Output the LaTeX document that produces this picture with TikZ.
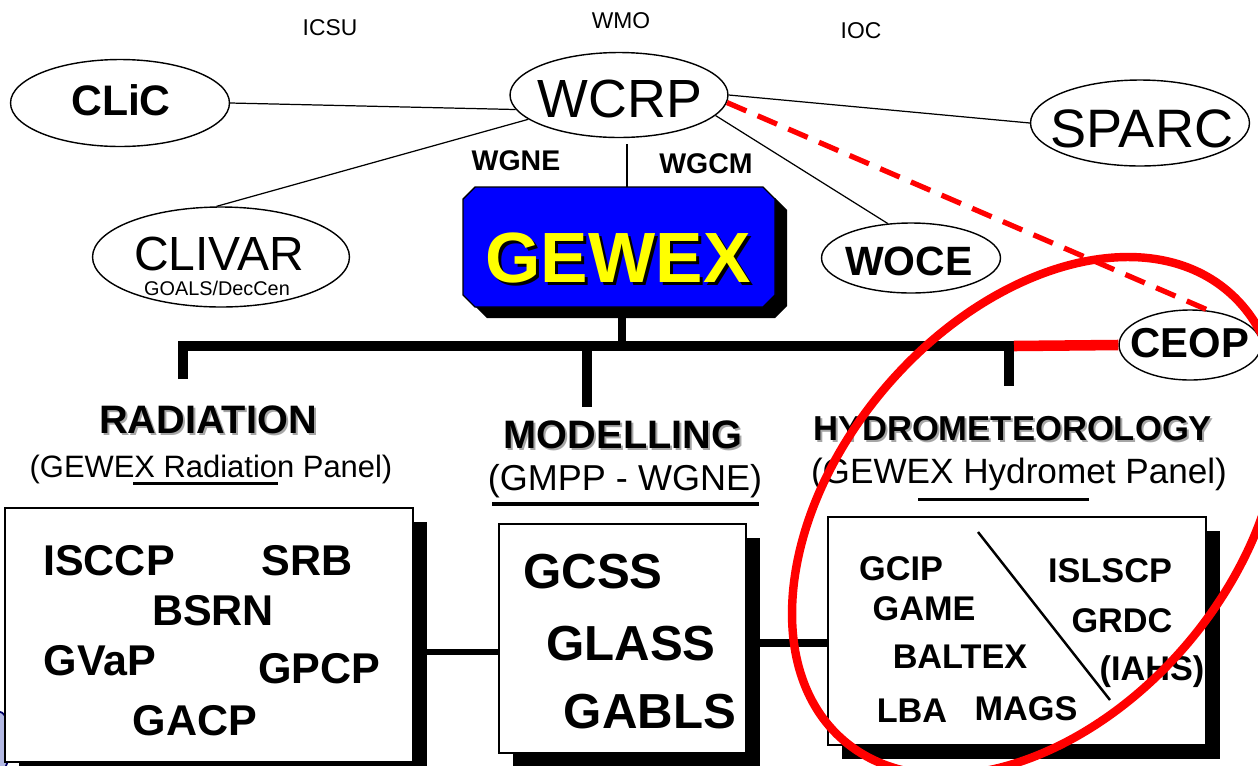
\documentclass[tikz,border=0pt]{standalone}
\usepackage{fontspec}
\setmainfont{Liberation Sans}
\usetikzlibrary{shapes.geometric,shapes.misc,shadows}
\newcommand\setfs[1]{\fontsize{#1}{#1}\selectfont}
\definecolor{gblue}{RGB}{0,0,255}
\definecolor{gyellow}{RGB}{255,255,0}
\definecolor{gred}{RGB}{255,0,0}
\begin{document}
\begin{tikzpicture}[x=0.02cm, y=-0.02cm,
  oval/.style={draw, ellipse, line width=0.8pt, inner sep=0pt, fill=white},
  txt/.style={inner sep=0pt, anchor=base},
  thinline/.style={line width=0.7pt},
  wbox/.style={draw, fill=white, line width=0.8pt, inner sep=0pt,
    drop shadow={fill=black, opacity=1, shadow xshift=0.28cm, shadow yshift=-0.28cm}},
  busline/.style={line width=6pt, line join=miter},
  hd/.style={txt, font=\bfseries\setfs{22.6}},
  hdsh/.style={txt, font=\bfseries\setfs{22.6}, text=black!35},
]
\useasboundingbox (0,0) rectangle (1258,765);
\clip (0,0) rectangle (1258,765);

% fragment of a logo at the lower left
\filldraw[fill=cyan!30!blue!30, draw=blue!40!black, line width=1pt] (0,742) ellipse [x radius=10, y radius=30];

% top labels
\node[txt, font=\setfs{13}] (icsu) at (330,35) {ICSU};
\node[txt, font=\setfs{13}] (wmo) at (621,28) {WMO};
\node[txt, font=\setfs{13}] (ioc) at (861,38) {IOC};

% ellipses
\node[oval, minimum width=4.38cm, minimum height=1.74cm] (clic) at (120,103) {};
\node[txt, font=\bfseries\setfs{24.3}] (clict) at (121,115) {CLiC};
\node[oval, minimum width=4.36cm, minimum height=1.70cm] (wcrp) at (619,95) {};
\node[txt, font=\setfs{30.6}] (wcrpt) at (620,117) {WCRP};
\node[oval, minimum width=4.38cm, minimum height=1.72cm] (sparc) at (1140,123) {};
\node[txt, font=\setfs{30.8}] (sparct) at (1142,147) {SPARC};
\node[oval, minimum width=5.14cm, minimum height=2.0cm] (clivar) at (221,257) {};
\node[txt, font=\setfs{27.3}] (clivart) at (219,270) {CLIVAR};
\node[txt, font=\setfs{11.3}] (goals) at (217,295) {GOALS/DecCen};
\node[oval, minimum width=3.58cm, minimum height=1.40cm] (woce) at (911,258) {};
\node[txt, font=\bfseries\setfs{23.3}] (wocet) at (909,275) {WOCE};
\node[oval, minimum width=2.84cm, minimum height=1.40cm] (ceop) at (1190,345) {};
\node[txt, font=\bfseries\setfs{23.8}] (ceopt) at (1190,357) {CEOP};

% thin connectors
\draw[thinline] (clic.east) -- (wcrp.188);
\draw[thinline] (clivar.95) -- (wcrp.195);
\draw[thinline] (wcrp.east) -- (sparc.west);
\draw[thinline] (wcrp.-12) -- (woce.124);
\draw[gred, line width=3pt, dash pattern=on 12pt off 7pt] (wcrp.-4) -- (ceop.61);

% WGNE / WGCM
\node[txt, font=\bfseries\setfs{16.2}] (wgne) at (516,170) {WGNE};
\node[txt, font=\bfseries\setfs{16.2}] (wgcm) at (706,173) {WGCM};

% GEWEX box (chamfered, with drop shadow)
\fill[black] (487,198) -- (775,198) -- (787,210) -- (787,306) -- (775,318) -- (487,318) -- (475,306) -- (475,210) -- cycle;
\filldraw[fill=gblue, draw=black, line width=0.8pt] (475,187) -- (763,187) -- (775,199) -- (775,295) -- (763,307) -- (475,307) -- (463,295) -- (463,199) -- cycle;
\node[rectangle, inner sep=0pt, minimum width=6.24cm, minimum height=2.4cm] (gewex) at (619,247) {};
\node[txt, font=\bfseries\setfs{40.5}, text=black] (gewexsh) at (621,285) {GEWEX};
\node[txt, font=\bfseries\setfs{40.5}, text=gyellow] (gewext) at (618,282) {GEWEX};
\coordinate (wtop) at (627,144);
\draw[thinline] (wtop) -- (wtop |- gewex.north);

% bus
\coordinate (gdrop) at (622,318);
\coordinate (bLtop) at (183,346);
\coordinate (bL) at (183,379);
\coordinate (bMtop) at (587,346);
\coordinate (bM) at (587,407);
\coordinate (bRtop) at (1009,346);
\coordinate (bR) at (1009,386);
\coordinate (redS) at (1014,346);
\draw[line width=4pt] (gdrop) -- (gdrop |- bLtop);
\draw[busline] (bL) -- (bLtop) -- (bRtop) -- (bR);
\draw[busline] (bMtop) -- (bM);
\draw[gred, line width=6pt] (redS) -- (ceop.west);

% headings
\node[hdsh] (radsh) at (210,435) {RADIATION};
\node[hd] (rad) at (208,433) {RADIATION};
\node[txt, font=\setfs{17.6}] (radsub) at (211,477) {(GEWEX Radiation Panel)};
\draw[line width=1.7pt] (133,483) -- (278,483);

\node[hdsh] (modsh) at (625,450) {MODELLING};
\node[hd] (mod) at (623,448) {MODELLING};
\node[txt, font=\setfs{20.5}] (modsub) at (625,490) {(GMPP - WGNE)};
\draw[line width=2pt] (492,504) -- (759,504);

\node[txt, font=\bfseries\setfs{19.7}, text=black!35] (hydsh) at (1015,442) {HYDROMETEOROLOGY};
\node[txt, font=\bfseries\setfs{19.7}] (hyd) at (1013,440) {HYDROMETEOROLOGY};
\node[txt, font=\setfs{20}] (hydsub) at (1019,483) {(GEWEX Hydromet Panel)};
\draw[line width=1.7pt] (918,499) -- (1089,499);

% boxes
\node[wbox, minimum width=8.16cm, minimum height=5.08cm] (radbox) at (209,635) {};
\node[wbox, minimum width=4.94cm, minimum height=4.58cm] (modbox) at (622.5,638.5) {};
\node[wbox, minimum width=7.56cm, minimum height=4.56cm] (hydbox) at (1017,631) {};

\draw[line width=3.4pt] (radbox.east) ++(0,17) coordinate (c1) -- (c1 -| modbox.west);
\draw[line width=4pt] (modbox.east) ++(0,4.5) coordinate (c2) -- (c2 -| hydbox.west);

% radiation box contents
\begin{scope}[every node/.style={txt, font=\bfseries\setfs{24.5}}]
\node (isccp) at (109,575) {ISCCP};
\node (srb) at (307,575) {SRB};
\node (bsrn) at (213,625) {BSRN};
\node (gvap) at (100,675) {GVaP};
\node (gpcp) at (319,683) {GPCP};
\node (gacp) at (195,735) {GACP};
\end{scope}

% modelling box contents
\begin{scope}[every node/.style={txt, font=\bfseries\setfs{28}}]
\node (gcss) at (593,588) {GCSS};
\node (glass) at (631,660) {GLASS};
\node (gabls) at (650,728) {GABLS};
\end{scope}

% hydromet box contents
\begin{scope}[every node/.style={txt, font=\bfseries\setfs{19.5}}]
\node (gcip) at (901,580) {GCIP};
\node (game) at (924,620) {GAME};
\node (baltex) at (960,668) {BALTEX};
\node (lba) at (912,722) {LBA};
\node (mags) at (1026,720) {MAGS};
\node (islscp) at (1110,582) {ISLSCP};
\node (grdc) at (1122,632) {GRDC};
\node (iahs) at (1152,680) {(IAHS)};
\end{scope}
\coordinate (dg1) at (978,532);
\coordinate (dg2) at (1110,700);
\draw[line width=1.4pt] (dg1) -- (dg2);

% red ellipse
\draw[gred, line width=4.8pt, rotate around={49.5:(1036,516)}] (1036,516) ellipse [x radius=295.6, y radius=198];
\end{tikzpicture}
\end{document}
